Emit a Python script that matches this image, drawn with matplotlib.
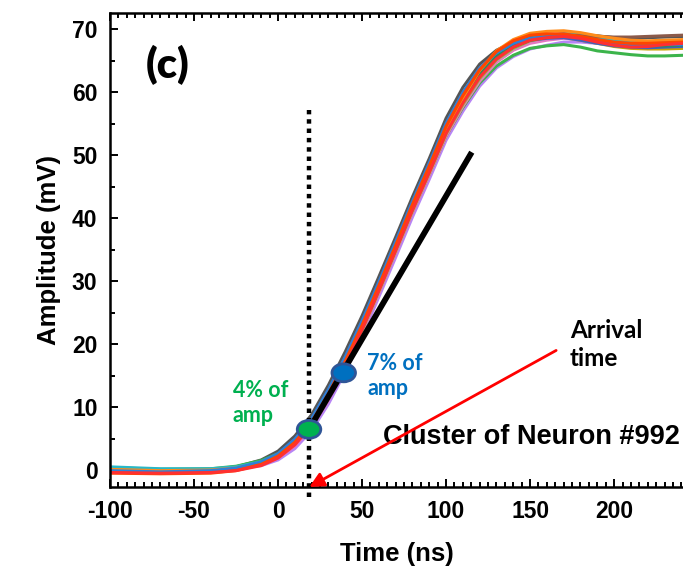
import matplotlib
matplotlib.use("Agg")
import matplotlib.pyplot as plt
from matplotlib.patches import Ellipse, FancyArrowPatch
from matplotlib.ticker import MultipleLocator

plt.rcParams["axes.unicode_minus"] = False

# Sample times (ns) shared by all recorded waveforms
time_ns = [-100, -70, -40, -25, -10, 0, 10, 20, 30, 40, 50, 60, 70, 80, 90,
           100, 110, 120, 130, 140, 150, 160, 170, 180, 190, 200, 210, 220, 230, 241]

# Amplitude (mV) of each waveform in the cluster
waveforms = {
    "#555555": [0.2, 0.0, 0.1, 0.5, 1.6, 3.0, 5.4, 8.8, 13.5, 18.8, 24.5, 30.7, 37.0, 43.4, 49.5,
                55.9, 60.8, 64.5, 66.7, 68.0, 68.8, 69.1, 69.3, 69.2, 69.0, 68.7, 68.6, 68.7, 68.8, 68.9],
    "#b784f5": [0.2, 0.0, 0.0, 0.2, 0.7, 1.6, 3.4, 6.3, 10.5, 15.6, 21.3, 27.5, 33.8, 40.2, 46.2,
                52.4, 57.0, 61.0, 63.9, 65.7, 66.9, 67.5, 68.0, 68.0, 67.8, 67.6, 67.4, 67.3, 67.3, 67.4],
    "#3cb44b": [0.3, 0.1, 0.2, 0.6, 1.5, 2.6, 4.5, 7.5, 11.8, 16.8, 22.4, 28.5, 34.8, 41.1, 47.0,
                53.1, 57.6, 61.5, 64.2, 65.9, 67.0, 67.4, 67.6, 67.2, 66.6, 66.3, 66.0, 65.8, 65.8, 65.9],
    "#c9a400": [0.0, -0.2, -0.1, 0.2, 1.0, 2.1, 4.1, 7.1, 11.4, 16.4, 22.0, 28.2, 34.6, 41.0, 47.0,
                53.1, 57.8, 61.9, 64.9, 66.8, 68.0, 68.5, 68.7, 68.3, 67.8, 67.3, 67.0, 66.9, 66.9, 67.0],
    "#e377c2": [0.1, -0.1, 0.0, 0.2, 0.9, 1.9, 3.8, 6.8, 11.1, 16.2, 21.9, 28.1, 34.5, 40.9, 46.9,
                53.1, 57.8, 61.8, 64.8, 66.7, 67.8, 68.3, 68.6, 68.4, 68.0, 67.7, 67.6, 67.6, 67.7, 67.8],
    "#8dc63f": [0.4, 0.1, 0.1, 0.4, 1.2, 2.3, 4.3, 7.3, 11.6, 16.6, 22.2, 28.4, 34.8, 41.2, 47.2,
                53.4, 58.1, 62.2, 65.2, 67.0, 68.2, 68.7, 69.0, 68.8, 68.4, 68.0, 67.7, 67.5, 67.5, 67.6],
    "#4060c0": [-0.2, -0.3, -0.2, 0.1, 0.9, 2.1, 4.2, 7.3, 11.7, 16.8, 22.5, 28.7, 35.1, 41.5, 47.6,
                53.8, 58.6, 62.7, 65.6, 67.3, 68.3, 68.6, 68.7, 68.3, 67.8, 67.4, 67.2, 67.1, 67.2, 67.3],
    "#28b8c8": [0.5, 0.2, 0.2, 0.5, 1.3, 2.5, 4.6, 7.7, 12.1, 17.2, 22.9, 29.1, 35.5, 41.9, 48.0,
                54.2, 59.0, 63.1, 65.9, 67.6, 68.6, 69.0, 69.3, 69.1, 68.6, 68.2, 68.0, 67.9, 68.0, 68.1],
    "#2e8b57": [0.0, -0.2, -0.1, 0.2, 1.0, 2.2, 4.3, 7.4, 11.8, 16.9, 22.6, 28.8, 35.2, 41.6, 47.7,
                53.9, 58.7, 62.8, 65.7, 67.4, 68.4, 68.8, 69.0, 68.7, 68.2, 67.8, 67.5, 67.4, 67.4, 67.5],
    "#8b5a4a": [-0.3, -0.4, -0.3, 0.0, 0.9, 2.1, 4.2, 7.3, 11.7, 16.8, 22.5, 28.7, 35.1, 41.5, 47.5,
                53.7, 58.5, 62.5, 65.4, 67.2, 68.3, 68.8, 69.1, 69.0, 68.9, 68.8, 68.8, 68.9, 69.0, 69.1],
    "#ff8c1a": [0.1, -0.1, 0.0, 0.3, 1.1, 2.3, 4.4, 7.5, 11.9, 17.0, 22.7, 28.9, 35.3, 41.7, 47.8,
                54.1, 59.1, 63.5, 66.6, 68.4, 69.4, 69.7, 69.8, 69.5, 69.0, 68.6, 68.3, 68.2, 68.3, 68.4],
    "#2f7fd8": [-0.1, -0.3, -0.1, 0.3, 1.3, 2.6, 4.9, 8.2, 12.8, 18.0, 23.7, 29.9, 36.3, 42.7, 48.8,
                55.1, 60.0, 63.9, 66.3, 67.8, 68.6, 68.9, 69.0, 68.7, 68.2, 67.8, 67.6, 67.5, 67.6, 67.6],
    "#ff4500": [-0.5, -0.6, -0.5, -0.1, 0.9, 2.2, 4.4, 7.6, 12.1, 17.3, 23.0, 29.3, 35.7, 42.2, 48.3,
                54.6, 59.5, 63.6, 66.5, 68.2, 69.1, 69.3, 69.3, 68.9, 68.4, 68.0, 67.8, 67.8, 67.9, 68.0],
    "#ff3030": [-0.4, -0.5, -0.4, -0.1, 0.7, 1.9, 4.0, 7.1, 11.5, 16.6, 22.3, 28.5, 34.9, 41.3, 47.3,
                53.5, 58.3, 62.4, 65.3, 67.2, 68.3, 68.7, 68.9, 68.6, 68.0, 67.5, 67.2, 67.3, 67.6, 67.8],
}

# Threshold markers: (time, amplitude)
pt_4pct = (18.45, 6.46)
pt_7pct = (39.1, 15.44)
# Fitted rising-edge line and arrival-time marker
fit_x = [18.0, 115.3]
fit_y = [6.25, 50.5]
arrival_x = 18.45
arrow_start = (165.5, 19.0)
arrow_end = (18.6, -2.7)

fig = plt.figure(figsize=(6.83, 5.69), dpi=100)
ax = fig.add_axes([110 / 683, 82 / 569, 1 - 110 / 683, (487 - 12.5) / 569])

for color, amps in waveforms.items():
    ax.plot(time_ns, amps, color=color, lw=2.2, solid_joinstyle="round", zorder=2)

ax.set_xlim(-100, 241)
ax.set_ylim(-2.7, 72.7)

# Dotted vertical marker at the arrival time
ax.plot([arrival_x, arrival_x], [-4.3, 57.2], color="black", lw=3.2,
        linestyle=(0, (1, 1.1)), clip_on=False, zorder=4)
# Linear fit through the threshold points
ax.plot(fit_x, fit_y, color="black", lw=4.2, solid_capstyle="butt", zorder=3)

for (cx, cy), fc in ((pt_4pct, "#00b050"), (pt_7pct, "#0070c0")):
    ax.add_patch(Ellipse((cx, cy), width=14.0, height=2.85, facecolor=fc,
                         edgecolor="#2f5597", lw=2.0, zorder=5))

arrow = FancyArrowPatch(arrow_start, arrow_end, arrowstyle="-|>", mutation_scale=22,
                        color="#ff0000", lw=2.0, shrinkA=0, shrinkB=0, zorder=6,
                        clip_on=False)
ax.add_patch(arrow)

callout = dict(family="Lato", weight="bold", linespacing=1.25)
ax.text(-27.0, 14.3, "4% of\namp", color="#00b050", ha="left", va="top", fontsize=15.5, **callout)
ax.text(53.0, 18.6, "7% of\namp", color="#0070c0", ha="left", va="top", fontsize=15.5, **callout)
ax.text(173.8, 24.0, "Arrival\ntime", color="black", ha="left", va="top", fontsize=17.5, **callout)
ax.text(-66.0, 64.4, "(c)", color="black", ha="center", va="center",
        family="Lato", weight="heavy", fontsize=30)
ax.text(62.5, 5.2, "Cluster of Neuron #992", color="black", ha="left", va="center",
        family="Liberation Sans", weight="bold", fontsize=19.5)

ax.set_xlabel("Time (ns)", family="Liberation Sans", weight="bold", fontsize=18.5, labelpad=14)
ax.set_ylabel("Amplitude (mV)", family="Liberation Sans", weight="bold", fontsize=18.5, labelpad=8)

ax.xaxis.set_major_locator(MultipleLocator(50))
ax.xaxis.set_minor_locator(MultipleLocator(5))
ax.yaxis.set_major_locator(MultipleLocator(10))
ax.yaxis.set_minor_locator(MultipleLocator(5))
ax.tick_params(which="both", direction="in", top=True, right=False, width=1.4)
ax.tick_params(which="major", length=6, labelsize=16.5, pad=9)
ax.tick_params(which="minor", length=3.5)
for lbl in ax.get_xticklabels() + ax.get_yticklabels():
    lbl.set_family("Liberation Sans")
    lbl.set_weight("bold")

for side in ("left", "bottom", "top"):
    ax.spines[side].set_linewidth(1.8)
ax.spines["right"].set_visible(False)

fig.savefig("out.png", dpi=100)
